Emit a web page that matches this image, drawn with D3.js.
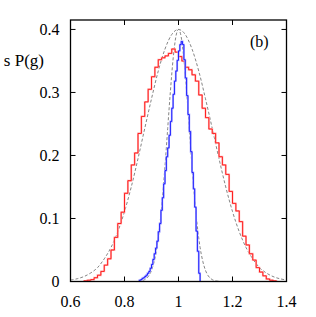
<!DOCTYPE html>
<html>
<head>
<meta charset="utf-8">
<script src="https://cdn.jsdelivr.net/npm/d3@7"></script>
<style>
  body { margin: 0; background: #fff; }
</style>
</head>
<body>
<div id="chart"></div>
<script>
// red histogram (wide) - bins start at 0.65, width 0.0125
const redStart = 0.65;
const redWidth = 0.0125;
const redP = [0.001, 0.002, 0.003, 0.006, 0.010, 0.016, 0.026, 0.036, 0.050, 0.070,
  0.092, 0.110, 0.140, 0.160, 0.185, 0.204, 0.235, 0.262, 0.285, 0.305,
  0.325, 0.340, 0.352, 0.355, 0.358, 0.362, 0.369, 0.364, 0.357, 0.350,
  0.340, 0.336, 0.328, 0.318, 0.296, 0.275, 0.260, 0.242, 0.235, 0.220,
  0.198, 0.185, 0.170, 0.143, 0.124, 0.112, 0.095, 0.072, 0.058, 0.044,
  0.034, 0.022, 0.015, 0.009, 0.004, 0.002, 0.001];

// blue histogram (narrow) - bins start at 0.855, width 0.005
const blueStart = 0.855;
const blueWidth = 0.005;
const blueP = [0.002, 0.003, 0.005, 0.006, 0.008, 0.010, 0.013, 0.016, 0.021, 0.027,
  0.035, 0.044, 0.053, 0.064, 0.079, 0.092, 0.113, 0.133, 0.155, 0.176,
  0.198, 0.212, 0.232, 0.254, 0.275, 0.297, 0.318, 0.334, 0.351, 0.366,
  0.376, 0.381, 0.376, 0.352, 0.323, 0.295, 0.265, 0.238, 0.206, 0.173,
  0.147, 0.118, 0.080, 0.048, 0.013];

// dashed reference curves
const wideG = [0.6, 0.625, 0.65, 0.675, 0.7, 0.725, 0.75, 0.775, 0.8, 0.825, 0.85, 0.875, 0.9, 0.925, 0.95, 0.975,
  1.0, 1.025, 1.05, 1.075, 1.1, 1.125, 1.15, 1.175, 1.2, 1.225, 1.25, 1.275, 1.3, 1.325, 1.35, 1.375, 1.4];
const wideP = [0.0024, 0.0044, 0.0079, 0.0136, 0.022, 0.036, 0.054, 0.079, 0.111, 0.150, 0.195, 0.243, 0.290, 0.334, 0.369, 0.392,
  0.4, 0.392, 0.369, 0.334, 0.290, 0.243, 0.195, 0.150, 0.111, 0.079, 0.054, 0.036, 0.022, 0.0136, 0.0079, 0.0044, 0.0024];
const narrowG = [0.85, 0.86, 0.87, 0.88, 0.89, 0.9, 0.91, 0.92, 0.93, 0.94, 0.95, 0.96, 0.97, 0.98, 0.99,
  1.0, 1.01, 1.02, 1.03, 1.04, 1.05, 1.06, 1.07, 1.08, 1.09, 1.1, 1.11, 1.12, 1.13, 1.14, 1.15];
const narrowP = [0.0003, 0.0009, 0.002, 0.0044, 0.0091, 0.0176, 0.032, 0.054, 0.0865, 0.130, 0.183, 0.243, 0.302, 0.353, 0.388,
  0.4, 0.388, 0.353, 0.302, 0.243, 0.183, 0.130, 0.0865, 0.054, 0.032, 0.0176, 0.0091, 0.0044, 0.002, 0.0009, 0.0003];

const xTicks = [0.6, 0.8, 1, 1.2, 1.4];
const yTicks = [0, 0.1, 0.2, 0.3, 0.4];

const W = 316, H = 317;
const mLeft = 70.5, mRight = 286.5, mTop = 20, mBottom = 281.5;
const serif = "'Liberation Serif', 'Times New Roman', Times, 'DejaVu Serif', serif";

const svg = d3.select("#chart").append("svg")
  .attr("width", W).attr("height", H)
  .attr("font-family", serif);

const x = d3.scaleLinear().domain([0.6, 1.4]).range([mLeft, mRight]);
const y = d3.scaleLinear().domain([0, 0.415]).range([mBottom, mTop]);

// step outline for a histogram
function histPoints(start, width, vals) {
  const pts = [[start, 0]];
  vals.forEach((v, i) => pts.push([start + i * width, v]));
  pts.push([start + vals.length * width, 0]);
  return pts;
}

const step = d3.line().x(d => x(d[0])).y(d => y(d[1])).curve(d3.curveStepAfter);
const smooth = d3.line().x(d => x(d[0])).y(d => y(d[1])).curve(d3.curveCardinal);

const plot = svg.append("g");

// dashed curves
plot.append("path")
  .attr("d", smooth(wideG.map((g, i) => [g, wideP[i]])))
  .attr("fill", "none").attr("stroke", "#777").attr("stroke-width", 0.9)
  .attr("stroke-dasharray", "3,2");
plot.append("path")
  .attr("d", smooth(narrowG.map((g, i) => [g, narrowP[i]])))
  .attr("fill", "none").attr("stroke", "#777").attr("stroke-width", 0.9)
  .attr("stroke-dasharray", "3,2");

// red histogram
const redPts = histPoints(redStart, redWidth, redP);
plot.append("path").attr("d", step(redPts))
  .attr("fill", "none").attr("stroke", "#ffb4b4").attr("stroke-width", 1.9);
plot.append("path").attr("d", step(redPts))
  .attr("fill", "none").attr("stroke", "#ff1010").attr("stroke-width", 0.9);

// blue histogram
const bluePts = histPoints(blueStart, blueWidth, blueP);
plot.append("path").attr("d", step(bluePts))
  .attr("fill", "none").attr("stroke", "#b0b0ff").attr("stroke-width", 1.9);
plot.append("path").attr("d", step(bluePts))
  .attr("fill", "none").attr("stroke", "#1010ff").attr("stroke-width", 0.9);

// frame
svg.append("rect")
  .attr("x", mLeft).attr("y", mTop)
  .attr("width", mRight - mLeft).attr("height", mBottom - mTop)
  .attr("fill", "none").attr("stroke", "#000").attr("stroke-width", 1.3);

// inward ticks on all sides
const tl = 5;
svg.append("g").selectAll("line.xb").data(xTicks).enter().append("line")
  .attr("x1", d => x(d)).attr("x2", d => x(d))
  .attr("y1", mBottom).attr("y2", mBottom - tl)
  .attr("stroke", "#000").attr("stroke-width", 1);
svg.append("g").selectAll("line.xt").data(xTicks).enter().append("line")
  .attr("x1", d => x(d)).attr("x2", d => x(d))
  .attr("y1", mTop).attr("y2", mTop + tl)
  .attr("stroke", "#000").attr("stroke-width", 1);
svg.append("g").selectAll("line.yl").data(yTicks).enter().append("line")
  .attr("x1", mLeft).attr("x2", mLeft + tl)
  .attr("y1", d => y(d)).attr("y2", d => y(d))
  .attr("stroke", "#000").attr("stroke-width", 1);
svg.append("g").selectAll("line.yr").data(yTicks).enter().append("line")
  .attr("x1", mRight).attr("x2", mRight - tl)
  .attr("y1", d => y(d)).attr("y2", d => y(d))
  .attr("stroke", "#000").attr("stroke-width", 1);

// tick labels
svg.append("g").selectAll("text").data(xTicks).enter().append("text")
  .attr("x", d => x(d)).attr("y", 307)
  .attr("text-anchor", "middle").attr("font-size", 16)
  .text(d => d);
svg.append("g").selectAll("text").data(yTicks).enter().append("text")
  .attr("x", 59.5).attr("y", d => y(d)).attr("dy", "0.33em")
  .attr("text-anchor", "end").attr("font-size", 16)
  .text(d => d);

// axis label (cut off at the left edge) and panel tag
svg.append("text").attr("x", 44).attr("y", 66)
  .attr("text-anchor", "end").attr("font-size", 17)
  .text("s P(g)");
svg.append("text").attr("x", 250).attr("y", 47)
  .attr("font-size", 16)
  .text("(b)");
</script>
</body>
</html>
